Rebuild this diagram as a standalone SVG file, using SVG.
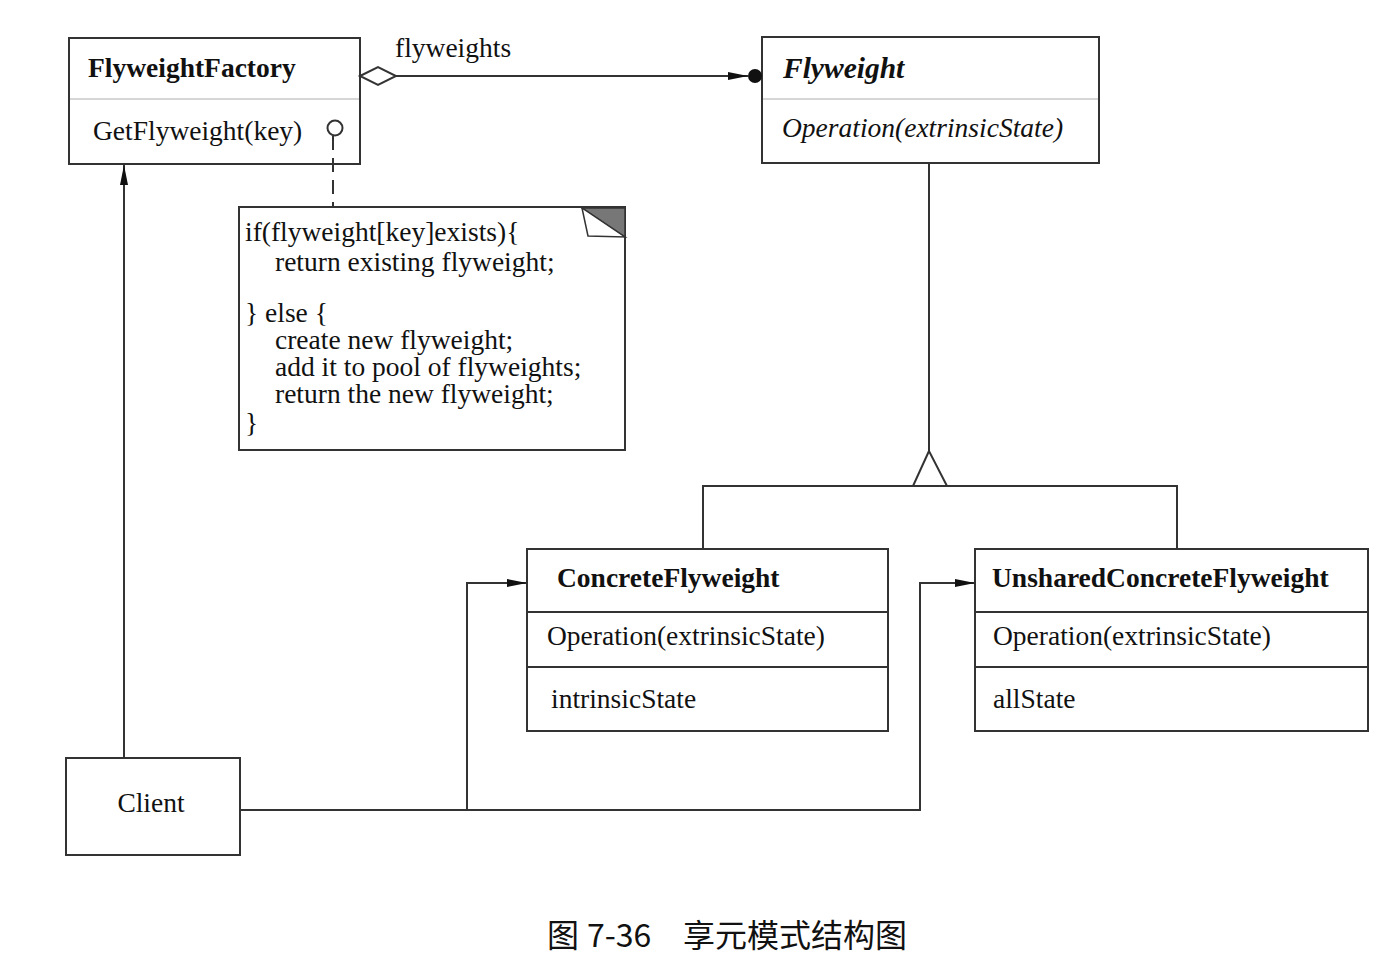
<svg xmlns="http://www.w3.org/2000/svg" width="1393" height="972" viewBox="0 0 1393 972">
<style>
.box{fill:#fff;stroke:#333;stroke-width:2}
.ln{fill:none;stroke:#333;stroke-width:2}
.div{stroke:#c8c8c8;stroke-width:1.5}
.divd{stroke:#333;stroke-width:2}
text{font-family:"Liberation Serif","Times New Roman",serif;fill:#111;font-size:27.5px}
.b{font-weight:bold}
.i{font-style:italic}
.cap{font-family:"Noto Sans CJK SC","Liberation Sans",sans-serif;font-size:32px}
</style>
<defs>
<marker id="arr" viewBox="0 0 20 10" refX="20" refY="5" markerWidth="20" markerHeight="10" markerUnits="userSpaceOnUse" orient="auto">
<path d="M0,1 L20,5 L0,9 Z" fill="#111"/>
</marker>
</defs>
<g id="FlyweightFactory">
<rect class="box" x="69" y="38" width="291" height="126"/>
<line class="div" x1="70" y1="99" x2="359" y2="99"/>
<text class="b" x="88" y="77">FlyweightFactory</text>
<text x="93" y="140">GetFlyweight(key)</text>
<circle cx="335" cy="128" r="7.5" fill="#fff" stroke="#333" stroke-width="2"/>
</g>
<g id="Note">
<path class="box" d="M239,207 H625 V450 H239 Z"/>
<polygon points="582,208 625,208 625,237" fill="#777" stroke="#333" stroke-width="1.5"/>
<polygon points="582,208 588,236 625,237" fill="#fff" stroke="#333" stroke-width="1.5"/>
<text x="245" y="241">if(flyweight[key]exists){</text>
<text x="275" y="271">return existing flyweight;</text>
<text x="245" y="322">} else {</text>
<text x="275" y="349">create new flyweight;</text>
<text x="275" y="376">add it to pool of flyweights;</text>
<text x="275" y="403">return the new flyweight;</text>
<text x="245" y="432">}</text>
</g>
<g id="Flyweight">
<rect class="box" x="762" y="37" width="337" height="126"/>
<line class="div" x1="763" y1="99" x2="1098" y2="99"/>
<text class="b i" x="783" y="78" style="font-size:29.5px">Flyweight</text>
<text class="i" x="782" y="137">Operation(extrinsicState)</text>
</g>
<g id="ConcreteFlyweight">
<rect class="box" x="527" y="549" width="361" height="182"/>
<line class="divd" x1="527" y1="612" x2="888" y2="612"/>
<line class="divd" x1="527" y1="667" x2="888" y2="667"/>
<text class="b" x="557" y="587">ConcreteFlyweight</text>
<text x="547" y="645">Operation(extrinsicState)</text>
<text x="551" y="708">intrinsicState</text>
</g>
<g id="UnsharedConcreteFlyweight">
<rect class="box" x="975" y="549" width="393" height="182"/>
<line class="divd" x1="975" y1="612" x2="1368" y2="612"/>
<line class="divd" x1="975" y1="667" x2="1368" y2="667"/>
<text class="b" x="992" y="587">UnsharedConcreteFlyweight</text>
<text x="993" y="645">Operation(extrinsicState)</text>
<text x="993" y="708">allState</text>
</g>
<g id="Client">
<rect class="box" x="66" y="758" width="174" height="97"/>
<text x="151" y="812" text-anchor="middle">Client</text>
</g>
<g id="connectors">
<path class="ln" d="M396,76 H748" marker-end="url(#arr)"/>
<circle cx="755" cy="76" r="7" fill="#111"/>
<polygon points="360,76 378,67 396,76 378,85" fill="#fff" stroke="#333" stroke-width="2"/>
<text x="395" y="57">flyweights</text>
<path class="ln" d="M929,163 V451"/>
<polygon points="929,451 913,486 947,486" fill="#fff" stroke="#333" stroke-width="2"/>
<path class="ln" d="M703,549 V486 H1177 V549"/>
<path class="ln" d="M124,758 V165" marker-end="url(#arr)"/>
<path class="ln" d="M240,810 H920 V583 H975" marker-end="url(#arr)"/>
<path class="ln" d="M467,810 V583 H527" marker-end="url(#arr)"/>
<path class="ln" d="M333,136 V207" stroke-dasharray="14,8"/>
</g>
<text class="cap" x="547" y="947">图</text>
<text class="cap" x="587" y="947">7-36</text>
<text class="cap" x="683" y="947">享元模式结构图</text>
</svg>
